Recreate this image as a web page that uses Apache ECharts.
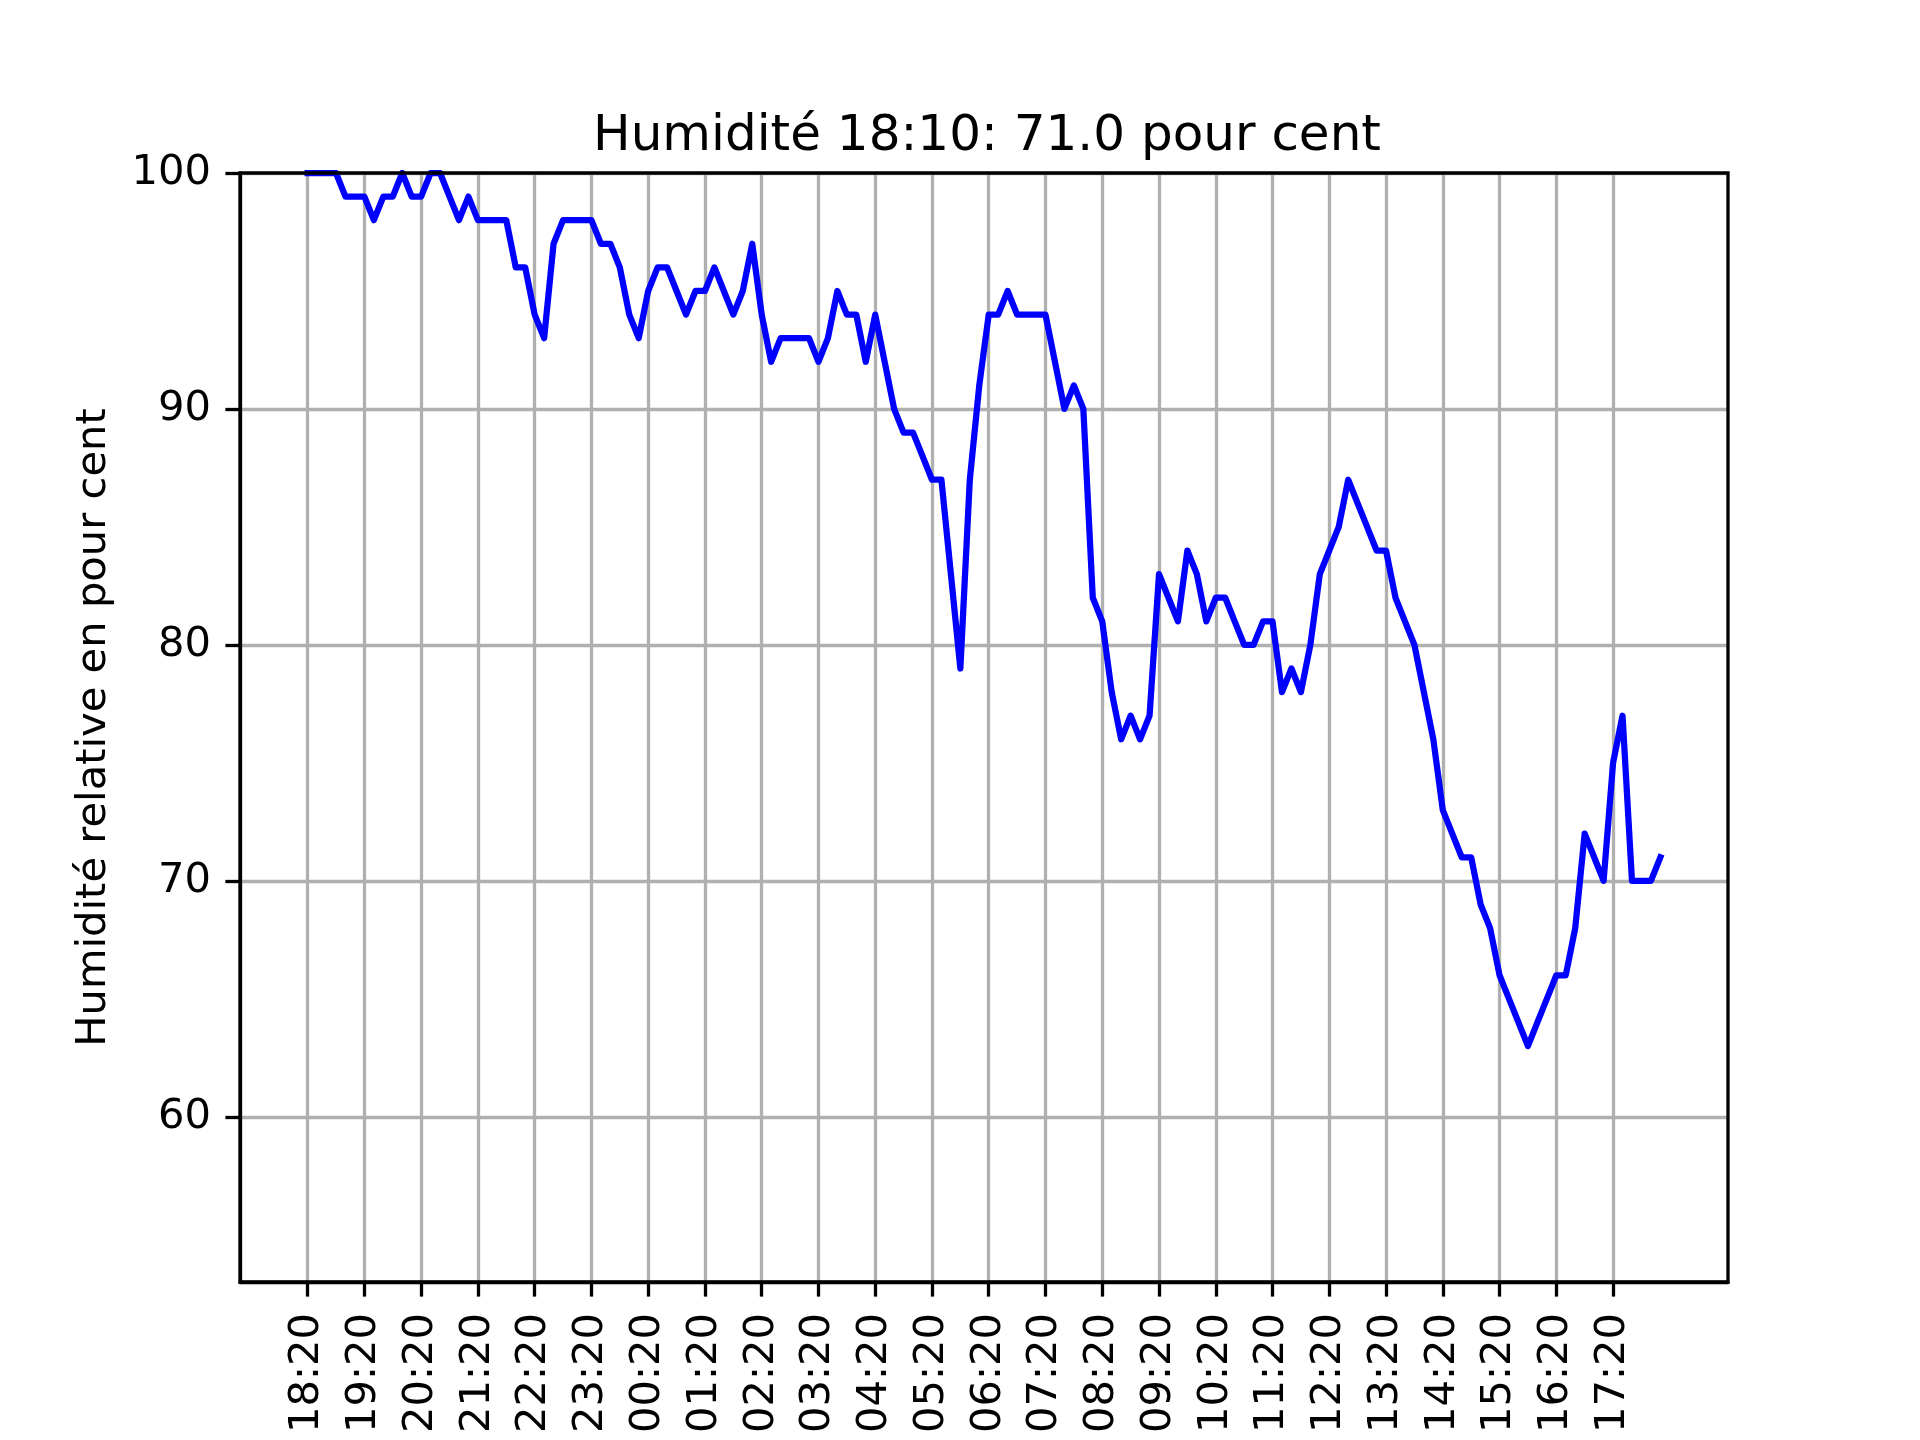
<!DOCTYPE html>
<html>
<head>
<meta charset="utf-8">
<script src="https://cdn.jsdelivr.net/npm/echarts@6/dist/echarts.min.js"></script>
<style>
html,body{margin:0;padding:0;background:#fff;}
#chart{width:1920px;height:1440px;}
</style>
</head>
<body>
<div id="chart"></div>
<script>
// Relative humidity (%) every 10 minutes, from 18:20 to 18:10 next day
const humidity = [
100,100,100,100,99,99,99,98,99,99,100,99,99,100,
100,99,98,99,98,98,98,98,96,96,94,93,97,
98,98,98,98,97,97,96,94,93,95,96,96,95,
94,95,95,96,95,94,95,97,94,92,93,93,93,
93,92,93,95,94,94,92,94,92,90,89,89,88,87,
87,83,79,87,91,94,94,95,94,94,94,94,92,
90,91,90,82,81,78,76,77,76,77,83,82,81,
84,83,81,82,82,81,80,80,81,81,78,79,78,
80,83,84,85,87,86,85,84,84,82,81,80,78,76,
73,72,71,71,69,68,66,65,64,63,64,65,66,
66,68,72,71,70,75,77,70,70,70,71
];
const stepMinutes = 10;
const tickLabels = ["18:20","19:20","20:20","21:20","22:20","23:20","00:20","01:20","02:20","03:20","04:20","05:20","06:20","07:20","08:20","09:20","10:20","11:20","12:20","13:20","14:20","15:20","16:20","17:20"];
const yTicks = [60,70,80,90,100];
const titleText = "Humidité 18:10: 71.0 pour cent";
const yName = "Humidité relative en pour cent";

const data = humidity.map((v,i)=>[i*stepMinutes, v]);
const span = (humidity.length-1)*stepMinutes;
const xTickValues = tickLabels.map((_,i)=>i*60);

const font = "DejaVu Sans";
const chart = echarts.init(document.getElementById('chart'), null, {renderer:'canvas'});
chart.setOption({
  animation:false,
  backgroundColor:'#ffffff',
  title:{
    text:titleText, left:982, top:107, textAlign:'center',
    textStyle:{fontFamily:font,fontSize:50,fontWeight:'normal',color:'#000'}
  },
  grid:{left:240,right:192,top:173,bottom:158,show:true,borderColor:'#000',borderWidth:3.3,backgroundColor:'transparent',z:10},
  xAxis:{
    type:'value', min:-0.05*span, max:span*1.05,
    axisLine:{show:true,onZero:false,lineStyle:{color:'#000',width:3.3}},
    axisTick:{show:true,length:14.6,lineStyle:{color:'#000',width:3.3},customValues:xTickValues},
    axisLabel:{customValues:xTickValues,rotate:90,margin:31,fontFamily:font,fontSize:41.67,color:'#000',
      formatter:(v)=>tickLabels[Math.round(v/60)]},
    splitLine:{show:true,lineStyle:{color:'#b0b0b0',width:3.3}}
  },
  yAxis:{
    type:'value', min:53, max:100,
    name:yName, nameLocation:'middle', nameGap:125,
    nameTextStyle:{fontFamily:font,fontSize:41.67,color:'#000'},
    axisLine:{show:true,onZero:false,lineStyle:{color:'#000',width:3.3}},
    axisTick:{show:true,length:14.6,lineStyle:{color:'#000',width:3.3},customValues:yTicks},
    axisLabel:{customValues:yTicks,margin:29,fontFamily:font,fontSize:41.67,color:'#000'},
    splitLine:{show:true,lineStyle:{color:'#b0b0b0',width:3.3}}
  },
  series:[{
    type:'line', data:data, showSymbol:false, clip:true,
    lineStyle:{color:'#0000ff',width:6.25,join:'round',cap:'square'},
    z:5
  }]
});
</script>
</body>
</html>
